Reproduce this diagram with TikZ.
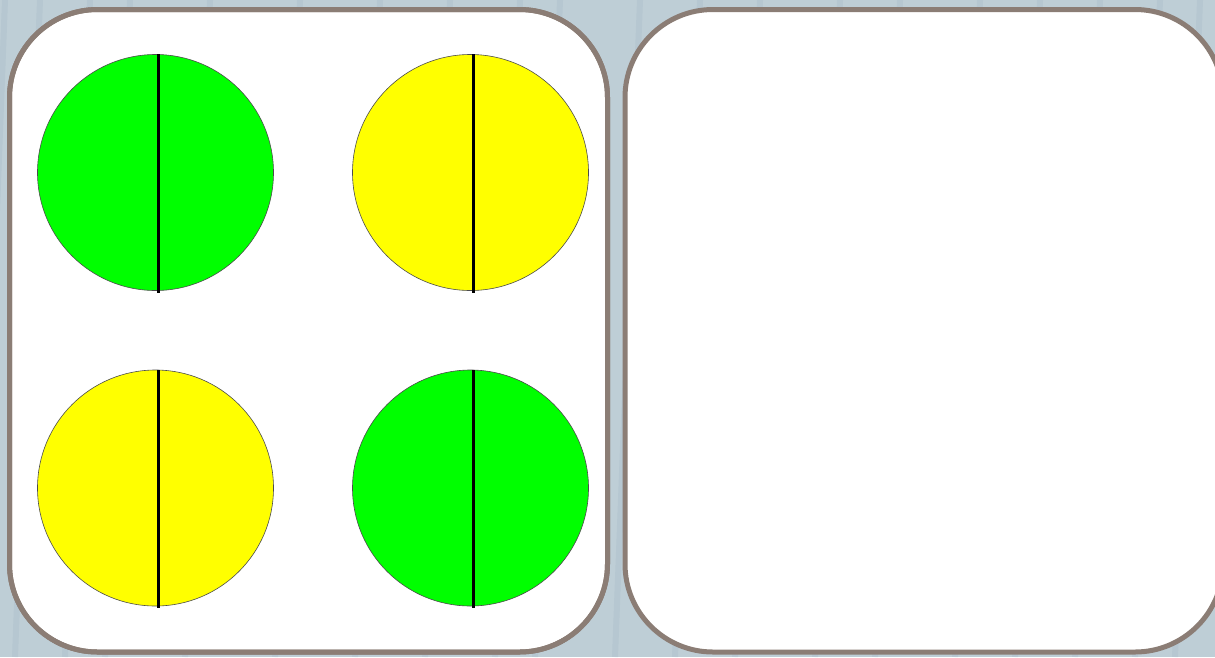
\documentclass[tikz,border=0pt]{standalone}
\usetikzlibrary{calc}
\definecolor{bgblue}{RGB}{190,206,214}
\definecolor{streak}{RGB}{168,188,200}
\definecolor{frame}{RGB}{139,125,117}
\definecolor{dotgreen}{RGB}{0,255,0}
\definecolor{dotyellow}{RGB}{255,255,0}
\tikzset{
  panel/.style={draw=frame, line width=5pt, fill=white, rounded corners=88pt},
  disc/.style={circle, draw=black!70, line width=0.6pt, minimum size=236pt, inner sep=0pt},
  greendisc/.style={disc, fill=dotgreen},
  yellowdisc/.style={disc, fill=dotyellow},
  divider/.style={draw=black, line width=3pt}
}
\begin{document}
\begin{tikzpicture}[x=1pt,y=-1pt]
\useasboundingbox (0,0) rectangle (1215,657);
% background
\fill[bgblue] (0,0) rectangle (1215,657);
\foreach \x in {5,40,90,130,210,300,380,450,520,560,640,700,760,840,900,980,1040,1100,1160,1200} {
  \draw[streak, line width=6pt, opacity=0.35] (\x,0) -- (\x-25,657);
}
% left panel
\path[panel] (9.5,9.5) rectangle (607.5,652);
\begin{scope}
  \clip[rounded corners=88pt] (9.5,9.5) rectangle (607.5,652);
  \fill[bgblue] (595,0) rectangle (615,53);
  \fill[bgblue] (595,607) rectangle (615,660);
\end{scope}
\draw[frame, line width=5pt, rounded corners=88pt] (9.5,9.5) rectangle (607.5,652);
% right panel
\path[panel] (625,9.5) rectangle (1223,652);
% discs
\node[greendisc]  (tl) at (155.5,172.5) {};
\node[yellowdisc] (tr) at (470.5,172.5) {};
\node[yellowdisc] (bl) at (155.5,488) {};
\node[greendisc]  (br) at (470.5,488) {};
% dividers
\foreach \n in {tl,tr,bl,br} {
  \coordinate (\n-top) at ($(\n.north)+(2.5,0)$);
  \coordinate (\n-bot) at ($(\n.south)+(2.5,2)$);
  \draw[divider] (\n-top) -- (\n-bot);
}
\end{tikzpicture}
\end{document}
